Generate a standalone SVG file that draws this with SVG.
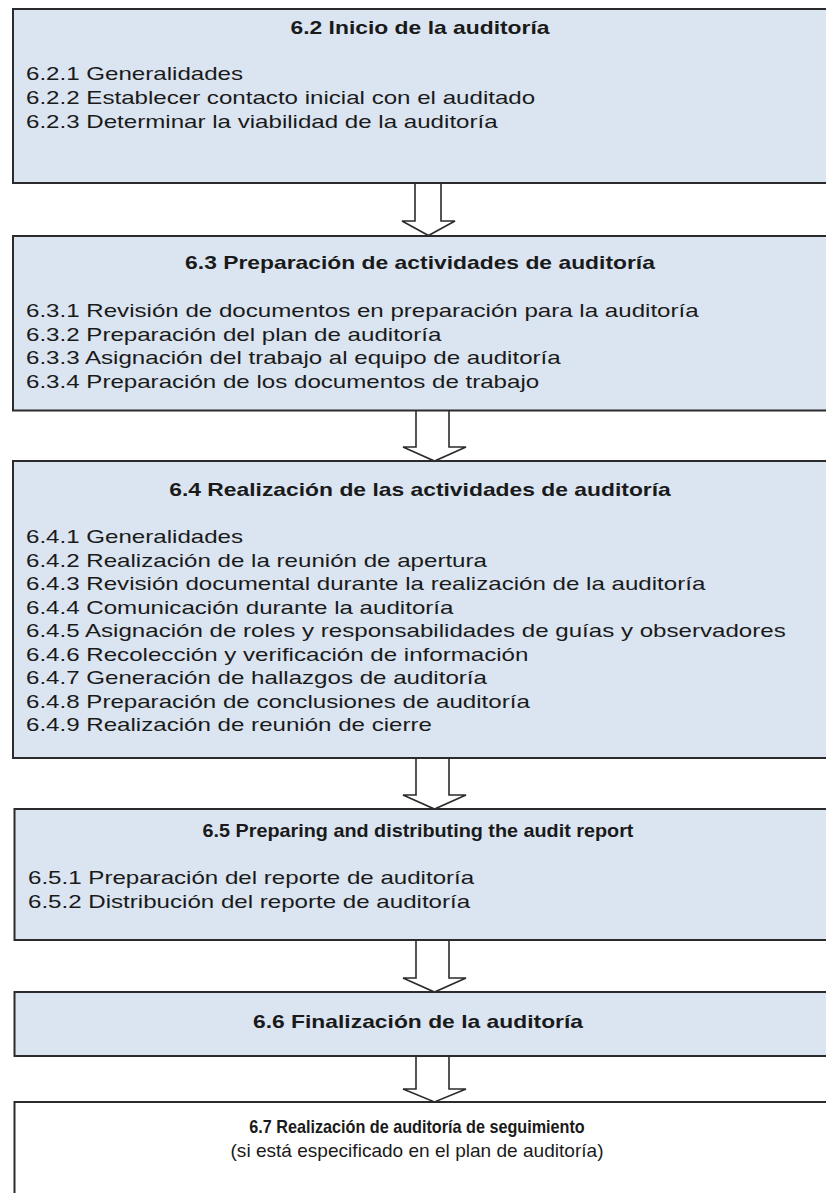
<svg xmlns="http://www.w3.org/2000/svg" width="826" height="1193" viewBox="0 0 826 1193">
  <style>
    .box { fill: #dbe5f1; stroke: #2b2b2b; stroke-width: 2; }
    .box-plain { fill: #ffffff; stroke: #2b2b2b; stroke-width: 2; }
    .arrow { fill: #ffffff; stroke: #2b2b2b; stroke-width: 1.6; stroke-linejoin: miter; }
    text { font-family: "Liberation Sans", Arial, sans-serif; font-size: 18px; fill: #1a1a1a; }
    .title { font-weight: bold; text-anchor: middle; }
    .sub { text-anchor: middle; }
  </style>

  <!-- block arrows between stages -->
  <g id="connectors">
    <path class="arrow" d="M415,182 H441 V221 H455 L428.5,235.5 L402,221 H415 Z"/>
    <path class="arrow" d="M416,410 H449 V447 H466 L434.5,461 L403,447 H416 Z"/>
    <path class="arrow" d="M416,758 H449 V795 H466 L434.5,809 L403,795 H416 Z"/>
    <path class="arrow" d="M416,940 H449 V978 H466 L434.5,992 L403,978 H416 Z"/>
    <path class="arrow" d="M416,1056 H449 V1089 H466 L434.5,1102 L403,1089 H416 Z"/>
  </g>

  <!-- 6.2 -->
  <g id="node-6-2">
    <rect class="box" x="13" y="9" width="840" height="174"/>
    <g transform="translate(420,0) scale(1.27,1)">
      <text class="title" x="0" y="34.5">6.2 Inicio de la auditoría</text>
    </g>
    <g transform="translate(26,0) scale(1.34,1)">
      <text x="0" y="80.5">6.2.1 Generalidades</text>
      <text x="0" y="104.5">6.2.2 Establecer contacto inicial con el auditado</text>
      <text x="0" y="128.5">6.2.3 Determinar la viabilidad de la auditoría</text>
    </g>
  </g>

  <!-- 6.3 -->
  <g id="node-6-3">
    <rect class="box" x="13" y="236" width="840" height="174.5"/>
    <g transform="translate(420,0) scale(1.27,1)">
      <text class="title" x="0" y="269.5">6.3 Preparación de actividades de auditoría</text>
    </g>
    <g transform="translate(26,0) scale(1.34,1)">
      <text x="0" y="317.5">6.3.1 Revisión de documentos en preparación para la auditoría</text>
      <text x="0" y="341">6.3.2 Preparación del plan de auditoría</text>
      <text x="0" y="364.5">6.3.3 Asignación del trabajo al equipo de auditoría</text>
      <text x="0" y="388">6.3.4 Preparación de los documentos de trabajo</text>
    </g>
  </g>

  <!-- 6.4 -->
  <g id="node-6-4">
    <rect class="box" x="13" y="461" width="840" height="297"/>
    <g transform="translate(420,0) scale(1.27,1)">
      <text class="title" x="0" y="496.5">6.4 Realización de las actividades de auditoría</text>
    </g>
    <g transform="translate(26,0) scale(1.34,1)">
      <text x="0" y="543.5">6.4.1 Generalidades</text>
      <text x="0" y="567">6.4.2 Realización de la reunión de apertura</text>
      <text x="0" y="590.5">6.4.3 Revisión documental durante la realización de la auditoría</text>
      <text x="0" y="614">6.4.4 Comunicación durante la auditoría</text>
      <text x="0" y="637.5">6.4.5 Asignación de roles y responsabilidades de guías y observadores</text>
      <text x="0" y="661">6.4.6 Recolección y verificación de información</text>
      <text x="0" y="684.5">6.4.7 Generación de hallazgos de auditoría</text>
      <text x="0" y="708">6.4.8 Preparación de conclusiones de auditoría</text>
      <text x="0" y="731.5">6.4.9 Realización de reunión de cierre</text>
    </g>
  </g>

  <!-- 6.5 -->
  <g id="node-6-5">
    <rect class="box" x="14.5" y="809" width="840" height="131"/>
    <g transform="translate(418,0) scale(1.1,1)">
      <text class="title" x="0" y="837.5">6.5 Preparing and distributing the audit report</text>
    </g>
    <g transform="translate(28,0) scale(1.34,1)">
      <text x="0" y="884.5">6.5.1 Preparación del reporte de auditoría</text>
      <text x="0" y="908.5">6.5.2 Distribución del reporte de auditoría</text>
    </g>
  </g>

  <!-- 6.6 -->
  <g id="node-6-6">
    <rect class="box" x="14.5" y="992" width="840" height="64"/>
    <g transform="translate(418,0) scale(1.27,1)">
      <text class="title" x="0" y="1028.5">6.6 Finalización de la auditoría</text>
    </g>
  </g>

  <!-- 6.7 -->
  <g id="node-6-7">
    <rect class="box-plain" x="14.5" y="1102" width="840" height="120"/>
    <g transform="translate(417,0) scale(0.9,1)">
      <text class="title" x="0" y="1133.5">6.7 Realización de auditoría de seguimiento</text>
    </g>
    <g transform="translate(417,0) scale(1.06,1)">
      <text class="sub" x="0" y="1157.5">(si está especificado en el plan de auditoría)</text>
    </g>
  </g>
</svg>
